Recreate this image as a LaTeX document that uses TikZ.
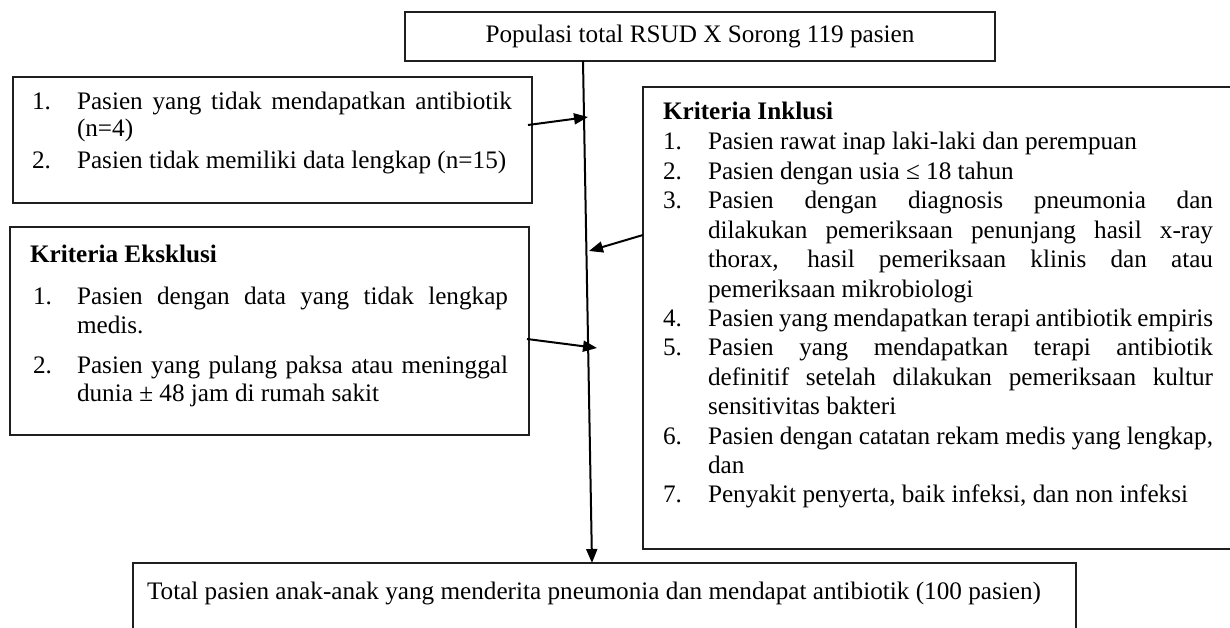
\documentclass[tikz,border=0pt]{standalone}
\usepackage{fontspec}
\setmainfont{Liberation Serif}
\usetikzlibrary{arrows.meta,calc}
\begin{document}
\begin{tikzpicture}[x=1pt,y=-1pt,
  box/.style={draw=black!88, line width=1.4pt, inner sep=0pt, outer sep=0pt, anchor=north west},
  txt/.style={anchor=base west, inner sep=0pt, outer sep=0pt, font=\fontsize{25.2}{29.4}\selectfont},
  conn/.style={draw=black, line width=2pt, -{Triangle[length=14pt,width=11pt]}}]
\useasboundingbox (0,0) rectangle (1230,628);
\fill[white] (0,0) rectangle (1230,628);
% boxes
\node[box, minimum width=590pt, minimum height=49pt, font=\fontsize{25.2}{29.4}\selectfont] (top) at (405,12) {Populasi total RSUD X Sorong 119 pasien};
\node[box, minimum width=519pt, minimum height=126pt] (b1) at (13,77) {};
\node[box, minimum width=519pt, minimum height=208pt] (b2) at (10,227) {};
\node[box, minimum width=600pt, minimum height=462pt] (incl) at (643,87) {};
\node[box, minimum width=943pt, minimum height=90pt] (bot) at (133,563) {};
% box 1 text
\node[txt] (b1n1) at (32,110) {1.};
\node[txt] (b1t1) at (77,110) {\makebox[435pt][s]{Pasien yang tidak mendapatkan antibiotik}};
\node[txt] (b1t2) at (77,137) {(n=4)};
\node[txt] (b1n2) at (32,169) {2.};
\node[txt] (b1t3) at (77,169) {Pasien tidak memiliki data lengkap (n=15)};
% box 2 text
\node[txt] (b2h) at (30,262) {\bfseries Kriteria Eksklusi};
\node[txt] (b2n1) at (33,304) {1.};
\node[txt] (b2t1) at (77,304) {\makebox[431pt][s]{Pasien dengan data yang tidak lengkap}};
\node[txt] (b2t2) at (77,333) {medis.};
\node[txt] (b2n2) at (33,373) {2.};
\node[txt] (b2t3) at (77,373) {\makebox[431pt][s]{Pasien yang pulang paksa atau meninggal}};
\node[txt] (b2t4) at (77,401) {dunia ± 48 jam di rumah sakit};
% inclusion text
\node[txt] (ih) at (663,120) {\bfseries Kriteria Inklusi};
\node[txt] (in1) at (663,150) {1.};
\node[txt] (it1) at (708,150) {Pasien rawat inap laki-laki dan perempuan};
\node[txt] (in2) at (663,179.4) {2.};
\node[txt] (it2) at (708,179.4) {Pasien dengan usia ≤ 18 tahun};
\node[txt] (in3) at (663,208.8) {3.};
\node[txt] (it3a) at (708,208.8) {\makebox[505pt][s]{Pasien dengan diagnosis pneumonia dan}};
\node[txt] (it3b) at (708,238.2) {\makebox[505pt][s]{dilakukan pemeriksaan penunjang hasil x-ray}};
\node[txt] (it3c) at (708,267.6) {\makebox[505pt][s]{thorax, hasil pemeriksaan klinis dan atau}};
\node[txt] (it3d) at (708,297) {pemeriksaan mikrobiologi};
\node[txt] (in4) at (663,326.4) {4.};
\node[txt] (it4) at (708,326.4) {\makebox[505pt][s]{Pasien yang mendapatkan terapi antibiotik empiris}};
\node[txt] (in5) at (663,355.8) {5.};
\node[txt] (it5a) at (708,355.8) {\makebox[505pt][s]{Pasien yang mendapatkan terapi antibiotik}};
\node[txt] (it5b) at (708,385.2) {\makebox[505pt][s]{definitif setelah dilakukan pemeriksaan kultur}};
\node[txt] (it5c) at (708,414.6) {sensitivitas bakteri};
\node[txt] (in6) at (663,444) {6.};
\node[txt] (it6a) at (708,444) {\makebox[505pt][s]{Pasien dengan catatan rekam medis yang lengkap,}};
\node[txt] (it6b) at (708,473.4) {dan};
\node[txt] (in7) at (663,502.8) {7.};
\node[txt] (it7) at (708,502.8) {Penyakit penyerta, baik infeksi, dan non infeksi};
% bottom text
\node[txt] (bt) at (147,599) {Total pasien anak-anak yang menderita pneumonia dan mendapat antibiotik (100 pasien)};
% connectors
\coordinate (j1) at (588,117);
\coordinate (j2) at (589,251);
\coordinate (j3) at (597,348);
\draw[conn] ($(top.south west)+(178,0)$) -- ($(bot.north west)+(459,0)$);
\draw[conn] ($(b1.north east)+(-4,48)$) -- (j1);
\draw[conn] ($(incl.north west)+(0,148)$) -- (j2);
\draw[conn] ($(b2.north east)+(-2,112)$) -- (j3);
\end{tikzpicture}
\end{document}
